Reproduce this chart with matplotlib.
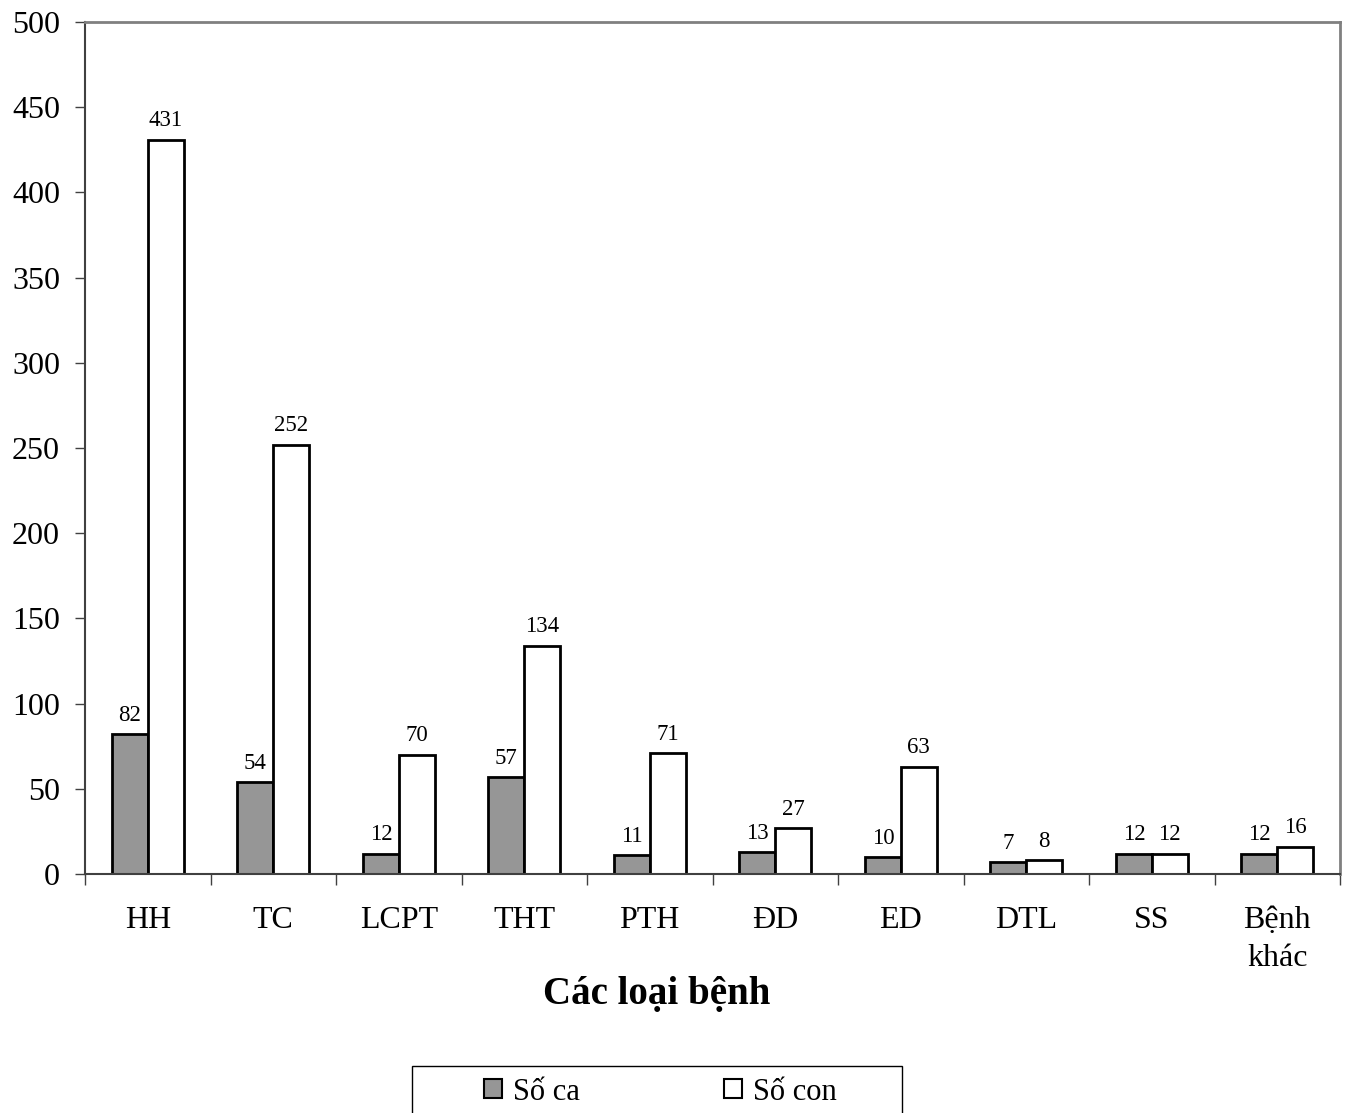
import numpy as np
import matplotlib.pyplot as plt
from matplotlib.patches import Patch, Rectangle

plt.rcParams['font.family'] = ['Liberation Serif', 'DejaVu Serif']

# data
categories = ['HH', 'TC', 'LCPT', 'THT', 'PTH', 'ĐD', 'ED', 'DTL', 'SS', 'Bệnh\nkhác']
so_ca = [82, 54, 12, 57, 11, 13, 10, 7, 12, 12]
so_con = [431, 252, 70, 134, 71, 27, 63, 8, 12, 16]
yticks = [0, 50, 100, 150, 200, 250, 300, 350, 400, 450, 500]

fig = plt.figure(figsize=(13.46, 11.13), dpi=100)
ax = fig.add_axes([85/1346, 1-874/1113, (1340-85)/1346, (874-22)/1113])

x = np.arange(len(categories))
w = 0.285
b1 = ax.bar(x + 0.5 - w/2, so_ca, width=w, color='#969696', edgecolor='black', linewidth=2, label='Số ca')
b2 = ax.bar(x + 0.5 + w/2, so_con, width=w, color='white', edgecolor='black', linewidth=2, label='Số con')

for bars, vals in [(b1, so_ca), (b2, so_con)]:
    for r, v in zip(bars, vals):
        ax.annotate(str(v), (r.get_x() + r.get_width()/2, v), xytext=(0, 6),
                    textcoords='offset points', ha='center', va='bottom', fontsize=16.5)

ax.set_xlim(0, len(categories))
ax.set_ylim(0, 500)
ax.set_yticks(yticks)
ax.tick_params(axis='y', labelsize=23, length=7, width=1, color='#404040', pad=11)

# category labels at centers, tick marks at boundaries
ax.set_xticks(x + 0.5)
ax.set_xticklabels(categories, fontsize=23, va='top', linespacing=1.4)
ax.tick_params(axis='x', length=0, pad=23)
ax.set_xticks(np.arange(len(categories) + 1), minor=True)
ax.tick_params(axis='x', which='minor', length=8, width=1, color='#404040')

for s in ['left', 'bottom']:
    ax.spines[s].set_color('#404040')
    ax.spines[s].set_linewidth(1.5)
for s in ['top', 'right']:
    ax.spines[s].set_color('#808080')
    ax.spines[s].set_linewidth(2)

fig.text(657/1346, 1-995/1113, 'Các loại bệnh', fontsize=28, fontweight='bold',
         ha='center', va='center')

# legend box
fig.patches.append(Rectangle((412/1346, -0.05), (902-412)/1346, 1-1066/1113 + 0.05,
                             transform=fig.transFigure, facecolor='white',
                             edgecolor='black', linewidth=1))
handles = [Patch(facecolor='#969696', edgecolor='black', linewidth=1.5, label='Số ca'),
           Patch(facecolor='white', edgecolor='black', linewidth=1.5, label='Số con')]
fig.legend(handles=handles, loc='center left', bbox_to_anchor=(484/1346, 1-1092/1113),
           ncol=2, fontsize=22, frameon=False, handlelength=0.6,
           handleheight=0.6, handletextpad=0.35, columnspacing=4.7,
           borderpad=0, borderaxespad=0)

fig.savefig('out.png', dpi=100)
